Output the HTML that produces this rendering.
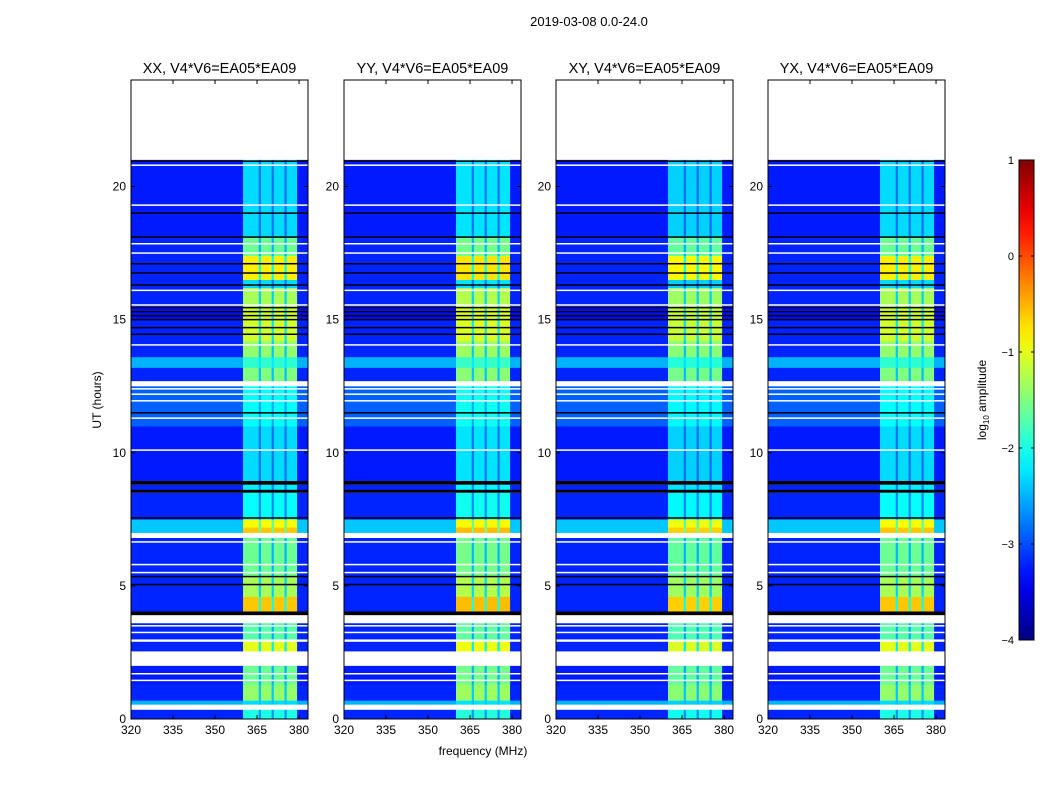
<!DOCTYPE html>
<html><head><meta charset="utf-8"><style>
body{margin:0;background:#fff;}
svg{display:block;font-family:"Liberation Sans",sans-serif;}
</style></head><body>
<svg id="fig" width="1050" height="800">
<text x="589" y="26" font-size="13" text-anchor="middle">2019-03-08 0.0-24.0</text>
<text x="483" y="755" font-size="12" text-anchor="middle">frequency (MHz)</text>
<text transform="translate(101,400) rotate(-90)" font-size="12" text-anchor="middle">UT (hours)</text>
<g id="panels"></g>
<g id="cbar"></g>
</svg>
<script>
const panelTitles=["XX, V4*V6=EA05*EA09","YY, V4*V6=EA05*EA09","XY, V4*V6=EA05*EA09","YX, V4*V6=EA05*EA09"];
const panelBandOffset=[0,0.05,-0.05,0];
const freqEdges=[320,360,365.6,366.4,370.2,371,374.8,375.6,379.3,383.2];
const freqWeights=[0,1,0.45,1,0.45,1,0.45,1,0];
// [startHour,endHour,type,bgLevel,bandLevel]
const segments=[
[0,0.35,'d',-3.2,-2.0],[0.35,0.55,'w'],[0.55,0.7,'d',-2.5,-2.3],[0.7,1.3,'d',-3.2,-1.4],[1.3,2.0,'d',-3.25,-1.6],
[2.0,2.55,'w'],[2.55,2.9,'d',-3.2,-1.0],[3.0,3.6,'d',-3.2,-1.7],[3.6,3.9,'w'],[3.9,4.05,'k'],
[4.05,4.6,'d',-3.2,-0.6],[4.6,5.4,'d',-3.2,-1.3],[5.4,6.8,'d',-3.2,-1.6],[6.8,7.0,'w'],
[7.0,7.2,'d',-2.4,-0.6],[7.2,7.5,'d',-2.4,-0.9],[7.5,8.5,'d',-3.2,-2.1],[8.5,8.62,'k'],[8.62,8.8,'d',-3.2,-2.2],[8.8,8.95,'k'],
[8.95,11.0,'d',-3.25,-2.3],[11.0,12.5,'d',-2.9,-2.1],[12.5,12.7,'w'],[12.7,13.2,'d',-3.2,-1.5],[13.2,13.6,'d',-2.5,-1.9],
[13.6,14.2,'d',-3.2,-1.4],[14.2,15.0,'d',-3.2,-1.1],[15.0,15.5,'d',-3.3,-1.1],[15.5,16.2,'d',-3.2,-1.3],[16.2,16.5,'d',-3.2,-2.3],
[16.5,17.4,'d',-3.2,-0.8],[17.4,18.1,'d',-3.2,-1.6],[18.1,21.0,'d',-3.25,-2.3]
];
const whiteLines=[1.45,1.7,2.95,3.25,3.5,5.5,5.8,6.65,6.9,10.1,11.3,11.95,12.2,12.4,14.05,15.55,16.1,17.5,17.85,19.3,20.8];
const blackLines=[4.0,5.05,5.35,7.55,11.5,14.45,14.7,15.0,15.15,15.3,15.45,16.3,16.75,17.1,18.1,19.0,20.95];
const xTicks=[320,335,350,365,380];
const yTicks=[0,5,10,15,20];
const cbTicks=[1,0,-1,-2,-3,-4];

const NS="http://www.w3.org/2000/svg";
const panelLefts=[131,344,556,768], PW=177, TOP=80, BOT=719;
function xs(f,L){return L+(f-freqEdges[0])*PW/(freqEdges[freqEdges.length-1]-freqEdges[0]);}
function ys(h){return BOT-h*(BOT-TOP)/24;}
function jet(v){let t=(v+4)/5;t=Math.max(0,Math.min(1,t));
 const c=x=>Math.round(255*Math.max(0,Math.min(1,1.5-Math.abs(4*t-x))));
 return `rgb(${c(3)},${c(2)},${c(1)})`;}
function mk(tag,attrs,parent){const e=document.createElementNS(NS,tag);for(const k in attrs)e.setAttribute(k,attrs[k]);parent.appendChild(e);return e;}
const panels=document.getElementById('panels');
panelLefts.forEach((L,p)=>{
 const g=mk('g',{},panels);
 
 
 segments.forEach(s=>{
  const y0=ys(s[1]),y1=ys(s[0]);
  if(s[2]!=='d'){const r=mk('rect',{x:L,y:y0,width:PW,height:y1-y0,fill:s[2]==='w'?'#fff':'#000'},g);
   return;}
  for(let i=0;i<freqWeights.length;i++){
   const band=s[4]+panelBandOffset[p];
   const v=s[3]+freqWeights[i]*(band-s[3]);
   const x0=xs(freqEdges[i],L),x1=xs(freqEdges[i+1],L);
   const r=mk('rect',{x:x0,y:y0,width:x1-x0+0.3,height:y1-y0+0.3,fill:jet(v)},g);
   
   
  }
 });
 whiteLines.forEach(h=>{const r=mk('rect',{x:L,y:ys(h)-0.75,width:PW,height:1.5,fill:'#fff'},g);
  });
 blackLines.forEach(h=>{const r=mk('rect',{x:L,y:ys(h)-0.75,width:PW,height:1.5,fill:'#000'},g);
  });
 const fr=mk('rect',{x:L,y:TOP,width:PW,height:BOT-TOP,fill:'none',stroke:'#000','stroke-width':1},g);
 
 const t=mk('text',{x:L+PW/2,y:73,'font-size':14.5,'text-anchor':'middle'},g);t.textContent=panelTitles[p];
 
 xTicks.forEach(f=>{const x=xs(f,L);
  mk('line',{x1:x,x2:x,y1:BOT,y2:BOT-4,stroke:'#000'},g);mk('line',{x1:x,x2:x,y1:TOP,y2:TOP+4,stroke:'#000'},g);
  const tt=mk('text',{x:x,y:BOT+15,'font-size':12,'text-anchor':'middle'},g);tt.textContent=f;
  });
 yTicks.forEach(h=>{const y=ys(h);
  mk('line',{x1:L,x2:L+4,y1:y,y2:y,stroke:'#000'},g);mk('line',{x1:L+PW,x2:L+PW-4,y1:y,y2:y,stroke:'#000'},g);
  const tt=mk('text',{x:L-5,y:y+4,'font-size':12,'text-anchor':'end'},g);tt.textContent=h;
  });
});
// colorbar
const cb=document.getElementById('cbar');


const CBX=1019,CBW=15,CBT=160,CBB=640;
const defs=mk('defs',{},cb);const lg=mk('linearGradient',{id:'jg',x1:0,y1:1,x2:0,y2:0},defs);
for(let i=0;i<=20;i++){mk('stop',{offset:i/20,'stop-color':jet(-4+5*i/20)},lg);}
mk('rect',{x:CBX,y:CBT,width:CBW,height:CBB-CBT,fill:'url(#jg)',stroke:'#000'},cb);
cbTicks.forEach(v=>{const y=CBB-(v+4)/5*(CBB-CBT);
 mk('line',{x1:CBX,x2:CBX+3,y1:y,y2:y,stroke:'#000'},cb);mk('line',{x1:CBX+CBW,x2:CBX+CBW-3,y1:y,y2:y,stroke:'#000'},cb);
 const t=mk('text',{x:CBX-5,y:y+4,'font-size':11,'text-anchor':'end'},cb);t.textContent=v===0?'0':(v>0?v:'\u2212'+(-v));
 });
const cl=mk('text',{transform:'translate(986,400) rotate(-90)','font-size':12,'text-anchor':'middle'},cb);
cl.innerHTML='log<tspan font-size="8" dy="3">10</tspan><tspan dy="-3"> amplitude</tspan>';

</script>
</body></html>
